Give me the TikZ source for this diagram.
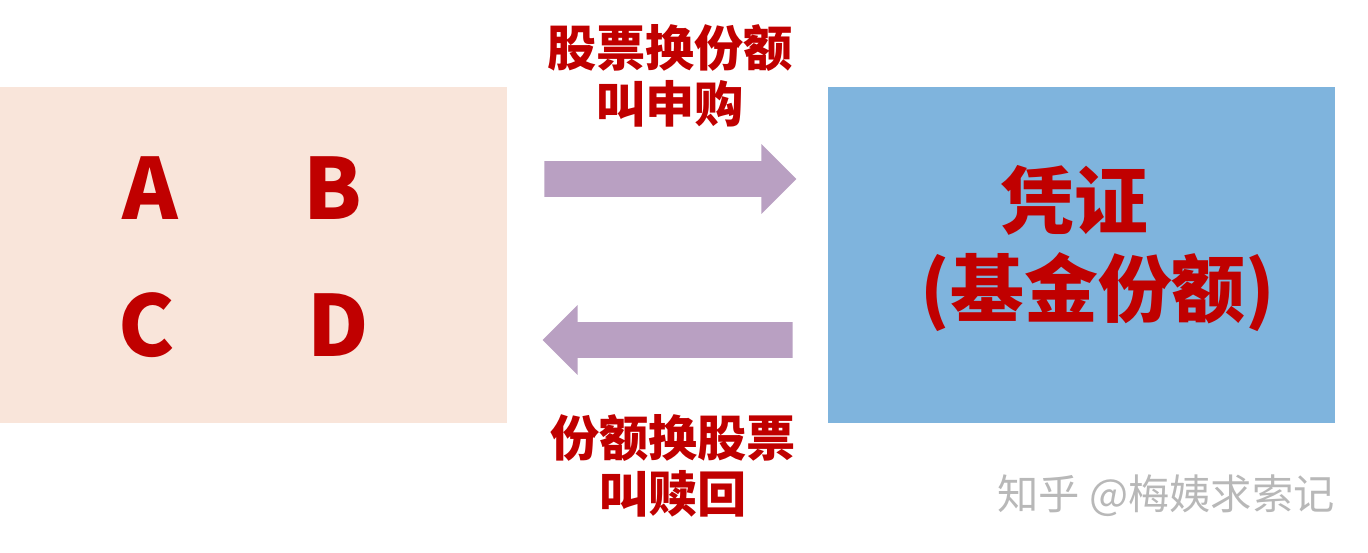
\documentclass[tikz,border=0pt]{standalone}
\usepackage{fontspec}
\setmainfont{Noto Sans CJK SC}
\usepackage{xcolor}
\usetikzlibrary{positioning, shapes.arrows}

\definecolor{stockbg}{HTML}{F9E5DA}
\definecolor{sharebg}{HTML}{7FB4DD}
\definecolor{flowarrow}{HTML}{B9A0C2}
\definecolor{labelred}{HTML}{C00000}

\begin{document}
\begin{tikzpicture}[
    x=0.02cm, y=-0.02cm,
    panel/.style={rectangle, inner sep=0, minimum width=10.14cm, minimum height=6.72cm},
    letter/.style={text=labelred, font=\fontsize{48}{52}\selectfont\bfseries, inner sep=0},
    flow/.style={single arrow, fill=flowarrow, inner xsep=0, inner ysep=0.35cm,
                 minimum height=5.04cm, single arrow head extend=0.34cm, anchor=tail},
    caption/.style={text=labelred, font=\fontsize{28}{32}\selectfont\bfseries, align=center, inner sep=0},
    big/.style={text=labelred, font=\fontsize{42}{48}\selectfont\bfseries, inner sep=0}
]
\useasboundingbox (0,0) rectangle (1368,553);

% Stocks and fund shares
\node[panel, fill=stockbg] (stocks) at (253.5,255) {};
\node[panel, fill=sharebg] (shares) at (1081.5,255) {};

% Four stocks
\node[letter] (a) at (150,188) {A};
\node[letter] (b) at (333,188) {B};
\node[letter] (c) at (147,325) {C};
\node[letter] (d) at (338,325) {D};

% Voucher text
\node[big] (voucher) at (1074,200) {凭证};
\node[big] (fund) at (1098,292) {(基金份额)};

% Arrows
\node[flow] (buy) at (544,179) {};
\node[flow, shape border rotate=180, minimum height=5cm] (sell) at (793,340) {};

\node[caption] (buytext) at (670,76) {股票换份额\\叫申购};
\node[caption] (selltext) at (673,466) {份额换股票\\叫赎回};

% Watermark
\node[text=black!28, font=\fontsize{23.5}{26}\selectfont, inner sep=0] (mark) at (1166,496) {知乎 @梅姨求索记};

\end{tikzpicture}
\end{document}
